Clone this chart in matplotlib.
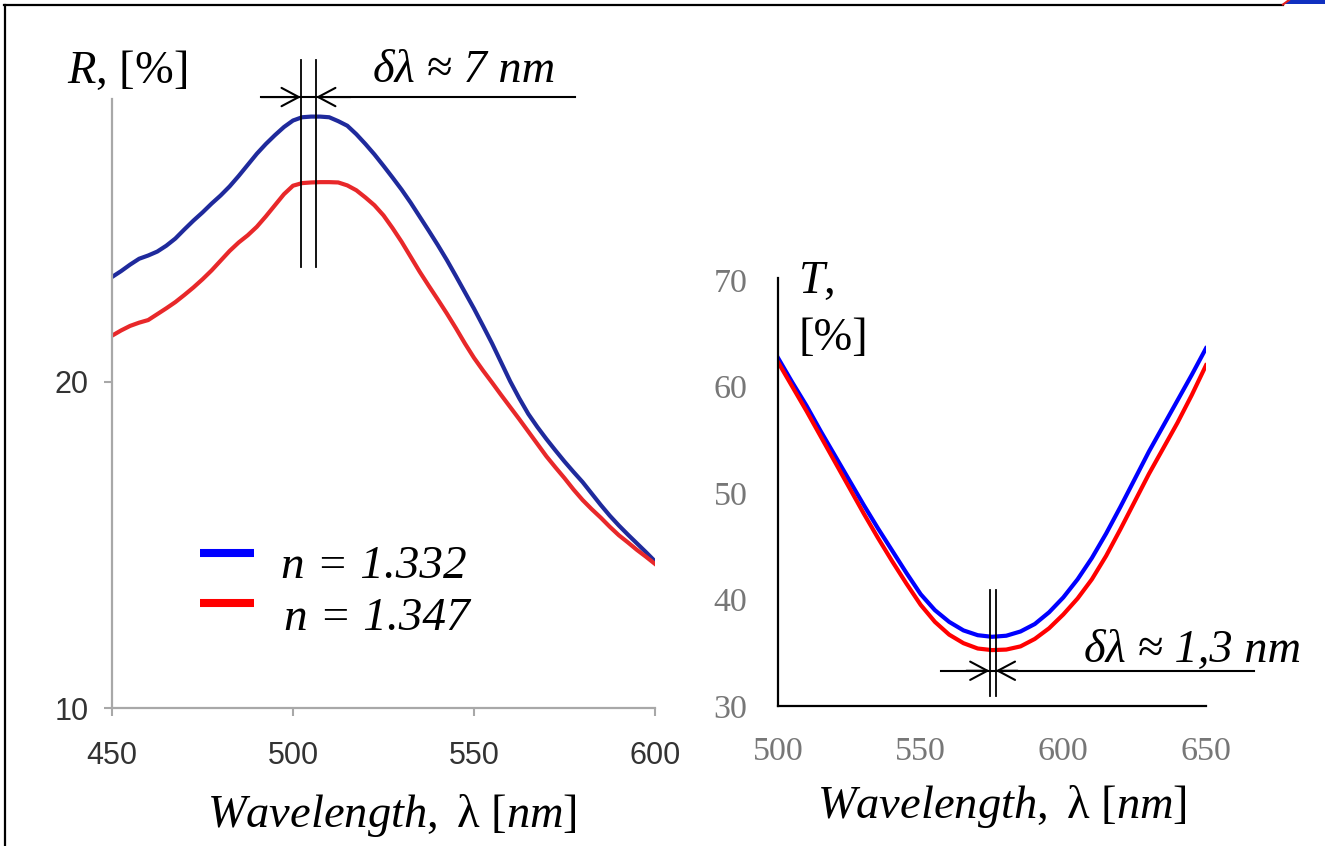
import matplotlib
matplotlib.use("Agg")
import matplotlib.pyplot as plt
from matplotlib.lines import Line2D
from matplotlib.patches import Polygon

plt.rcParams['mathtext.fontset'] = 'custom'
plt.rcParams['mathtext.rm'] = 'Liberation Serif'
plt.rcParams['mathtext.it'] = 'Liberation Serif:italic'
plt.rcParams['mathtext.bf'] = 'Liberation Serif:bold'

# ---------------- data ----------------
# Left panel: reflection spectra R(%) vs wavelength (nm)
wl_R = [450, 452.5, 455, 457.5, 460, 462.5, 465, 467.5, 470, 472.5, 475, 477.5,
        480, 482.5, 485, 487.5, 490, 492.5, 495, 497.5, 500, 502.5, 505, 507.5,
        510, 512.5, 515, 517.5, 520, 522.5, 525, 527.5, 530, 532.5, 535, 537.5,
        540, 542.5, 545, 547.5, 550, 552.5, 555, 557.5, 560, 562.5, 565, 567.5,
        570, 572.5, 575, 577.5, 580, 582.5, 585, 587.5, 590, 592.5, 595, 597.5,
        600]
R_n1332 = [23.22, 23.4, 23.6, 23.78, 23.88, 24.0, 24.18, 24.4, 24.68, 24.95,
           25.2, 25.47, 25.72, 26.0, 26.32, 26.66, 27.0, 27.3, 27.57, 27.82,
           28.02, 28.12, 28.14, 28.14, 28.12, 28.0, 27.86, 27.6, 27.3, 26.98,
           26.63, 26.27, 25.9, 25.5, 25.07, 24.64, 24.2, 23.74, 23.25, 22.75,
           22.25, 21.72, 21.18, 20.6, 20.02, 19.5, 19.02, 18.62, 18.25, 17.9,
           17.56, 17.24, 16.93, 16.58, 16.23, 15.9, 15.6, 15.32, 15.05, 14.78,
           14.5]
R_n1347 = [21.42, 21.58, 21.72, 21.82, 21.9, 22.08, 22.26, 22.45, 22.67, 22.9,
           23.15, 23.42, 23.72, 24.02, 24.28, 24.5, 24.76, 25.08, 25.42, 25.76,
           26.02, 26.1, 26.12, 26.13, 26.13, 26.12, 26.03, 25.88, 25.66, 25.42,
           25.11, 24.72, 24.3, 23.84, 23.38, 22.95, 22.53, 22.1, 21.65, 21.18,
           20.74, 20.35, 19.98, 19.6, 19.23, 18.86, 18.48, 18.1, 17.72, 17.38,
           17.05, 16.7, 16.38, 16.1, 15.84, 15.56, 15.3, 15.08, 14.85, 14.64,
           14.42]

# Right panel: transmission spectra T(%) vs wavelength (nm)
wl_T = [500, 505, 510, 515, 520, 525, 530, 535, 540, 545, 550, 555, 560, 565,
        570, 575, 580, 585, 590, 595, 600, 605, 610, 615, 620, 625, 630, 635,
        640, 645, 650]
T_n1332 = [62.7, 60.4, 58.2, 55.8, 53.5, 51.2, 48.9, 46.7, 44.6, 42.5, 40.5,
           39.0, 37.9, 37.1, 36.65, 36.5, 36.6, 37.0, 37.7, 38.8, 40.2, 41.9,
           43.9, 46.2, 48.7, 51.3, 53.9, 56.3, 58.7, 61.1, 63.6]
T_n1347 = [62.3, 60.0, 57.7, 55.3, 52.9, 50.5, 48.1, 45.8, 43.6, 41.5, 39.5,
           37.9, 36.7, 35.9, 35.4, 35.25, 35.3, 35.6, 36.3, 37.3, 38.6, 40.1,
           41.9, 44.1, 46.6, 49.2, 51.8, 54.2, 56.6, 59.2, 62.0]

R_xticks = [450, 500, 550, 600]
R_yticks = [10, 20]
T_xticks = [500, 550, 600, 650]
T_yticks = [30, 40, 50, 60, 70]
legend_labels = ["n = 1.332", "n = 1.347"]

# ---------------- figure ----------------
W, H = 1325, 846
fig = plt.figure(figsize=(W / 100, H / 100), dpi=100)
fig.patch.set_facecolor('white')


def P(x, y):
    return (x / W, 1 - y / H)


SERIF = 'Liberation Serif'
BIG = 33.5

# frame
fig.add_artist(Line2D([4 / W, 1283 / W], [1 - 5 / H, 1 - 5 / H], color='black', lw=1.6,
                      transform=fig.transFigure))
fig.add_artist(Line2D([4.5 / W, 4.5 / W], [0, 1 - 5 / H], color='black', lw=1.6,
                      transform=fig.transFigure))
fig.add_artist(Polygon([P(1290, 0), P(1325, 0), P(1325, 4.5), P(1284, 4.5)], closed=True,
                       facecolor='#1030c0', edgecolor='none', transform=fig.transFigure))
fig.add_artist(Line2D([1283 / W, 1289 / W], [1 - 4.5 / H, 1.0], color='#e02020', lw=1.5,
                      transform=fig.transFigure))

# ---- left panel ----
axL = fig.add_axes([112 / W, 1 - 708 / H, 543 / W, (708 - 99) / H])
axL.plot(wl_R, R_n1332, color='#1f2a9c', lw=3.0, solid_joinstyle='round')
axL.plot(wl_R, R_n1347, color='#e8282a', lw=3.0, solid_joinstyle='round')
axL.set_xlim(450, 600)
axL.set_ylim(10, 28.68)
for s in ['top', 'right']:
    axL.spines[s].set_visible(False)
for s in ['left', 'bottom']:
    axL.spines[s].set_color('#a8a8a8')
    axL.spines[s].set_linewidth(1.6)
axL.set_xticks(R_xticks)
axL.set_yticks(R_yticks)
axL.tick_params(axis='both', direction='out', length=6, width=1.5, color='#a8a8a8',
                labelsize=22, labelcolor='#333333')
axL.tick_params(axis='x', pad=18)
axL.tick_params(axis='y', pad=11)
for lab in axL.get_xticklabels() + axL.get_yticklabels():
    lab.set_fontfamily('Liberation Sans')

# left annotations (delta lambda ~ 7 nm)
ytop, ybot = 29.88, 23.53
for xv in (502.2, 506.35):
    axL.plot([xv, xv], [ybot, ytop], color='black', lw=1.3, clip_on=False)
yarr = 28.74
axL.plot([491.2, 577.9], [yarr, yarr], color='black', lw=1.5, clip_on=False)
axL.annotate('', xy=(502.2, yarr), xytext=(491.2, yarr),
             arrowprops=dict(arrowstyle='->,head_length=0.62,head_width=0.33', lw=1.5,
                             color='black', shrinkA=0, shrinkB=0, mutation_scale=20),
             annotation_clip=False)
axL.annotate('', xy=(506.35, yarr), xytext=(516.0, yarr),
             arrowprops=dict(arrowstyle='->,head_length=0.62,head_width=0.33', lw=1.5,
                             color='black', shrinkA=0, shrinkB=0, mutation_scale=20),
             annotation_clip=False)
axL.text(522.1, 29.2, 'δλ ≈ 7 nm', fontsize=BIG, family=SERIF, style='italic',
         ha='left', va='baseline', clip_on=False)

# left legend (drawn manually)
fig.add_artist(Line2D([200 / W, 254 / W], [1 - 553 / H] * 2, color='#0000ff', lw=5.8,
                      transform=fig.transFigure, solid_capstyle='butt'))
fig.add_artist(Line2D([200 / W, 254 / W], [1 - 603 / H] * 2, color='#ff0000', lw=5.8,
                      transform=fig.transFigure, solid_capstyle='butt'))
fig.text(*P(281, 578), legend_labels[0], fontsize=BIG + 0.5, family=SERIF, style='italic',
         ha='left', va='baseline')
fig.text(*P(284, 630), legend_labels[1], fontsize=BIG + 0.5, family=SERIF, style='italic',
         ha='left', va='baseline')

# left labels
fig.text(*P(67, 83), r'$\mathit{R}$, [%]', fontsize=BIG, family=SERIF,
         ha='left', va='baseline')
fig.text(*P(392, 827), r'$\mathit{Wavelength,}$ λ [$\mathit{nm}$]', fontsize=BIG,
         family=SERIF, ha='center', va='baseline')

# ---- right panel ----
axT = fig.add_axes([778 / W, 1 - 706 / H, 428 / W, 428 / H])
axT.plot(wl_T, T_n1332, color='#0000ff', lw=3.0)
axT.plot(wl_T, T_n1347, color='#ff0000', lw=3.0)
axT.set_xlim(500, 650)
axT.set_ylim(30, 70.2)
for s in ['top', 'right']:
    axT.spines[s].set_visible(False)
for s in ['left', 'bottom']:
    axT.spines[s].set_color('black')
    axT.spines[s].set_linewidth(1.6)
axT.set_xticks(T_xticks)
axT.set_yticks(T_yticks)
axT.tick_params(axis='both', length=0, labelsize=24.5, labelcolor='#777777')
axT.tick_params(axis='x', pad=22)
axT.tick_params(axis='y', pad=22)
for lab in axT.get_xticklabels() + axT.get_yticklabels():
    lab.set_fontfamily(SERIF)

# right annotations (delta lambda ~ 1,3 nm)
for xv in (574.16, 576.26):
    axT.plot([xv, xv], [30.94, 40.9], color='black', lw=1.3, clip_on=False)
yarr2 = 33.31
axT.plot([557.1, 666.8], [yarr2, yarr2], color='black', lw=1.5, clip_on=False)
axT.annotate('', xy=(574.16, yarr2), xytext=(566.0, yarr2),
             arrowprops=dict(arrowstyle='->,head_length=0.62,head_width=0.33', lw=1.5,
                             color='black', shrinkA=0, shrinkB=0, mutation_scale=20),
             annotation_clip=False)
axT.annotate('', xy=(576.26, yarr2), xytext=(584.0, yarr2),
             arrowprops=dict(arrowstyle='->,head_length=0.62,head_width=0.33', lw=1.5,
                             color='black', shrinkA=0, shrinkB=0, mutation_scale=20),
             annotation_clip=False)
axT.text(607.2, 34.13, 'δλ ≈ 1,3 nm', fontsize=BIG, family=SERIF, style='italic',
         ha='left', va='baseline', clip_on=False)

# right labels
fig.text(*P(798, 293), r'$\mathit{T}$,', fontsize=BIG, family=SERIF,
         ha='left', va='baseline')
fig.text(*P(798, 350), '[%]', fontsize=BIG, family=SERIF, ha='left', va='baseline')
fig.text(*P(1002, 818), r'$\mathit{Wavelength,}$ λ [$\mathit{nm}$]', fontsize=BIG,
         family=SERIF, ha='center', va='baseline')

fig.savefig('out.png', dpi=100, facecolor='white')
